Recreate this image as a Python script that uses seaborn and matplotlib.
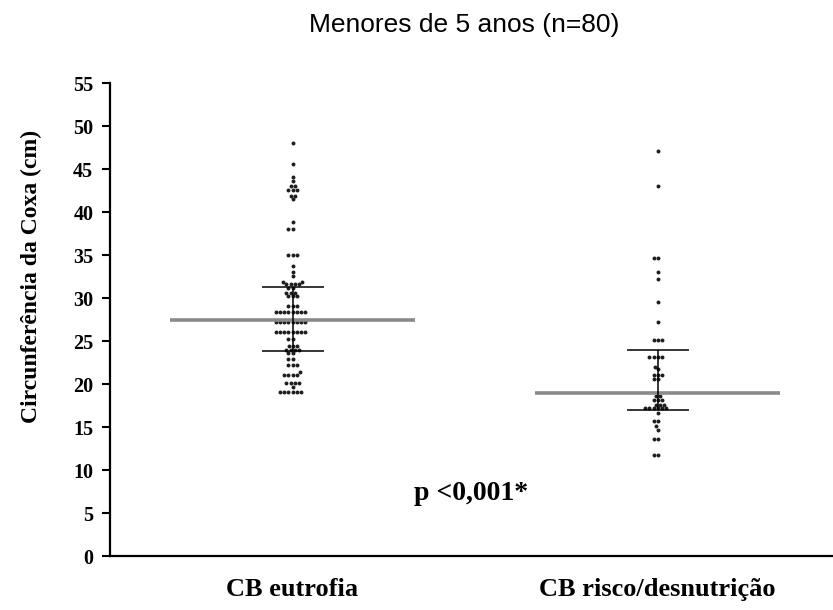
import matplotlib
matplotlib.use('Agg')
import matplotlib.pyplot as plt
import seaborn as sns
import pandas as pd

# values
categories = ['CB eutrofia', 'CB risco/desnutrição']

eutrofia = ([48.1, 45.6, 44.1, 43.6] + [43.0] * 2 + [42.6] * 3 + [41.9] * 2 + [41.5, 38.9]
            + [38.1] * 2 + [35.0] * 3 + [33.7, 33.1, 32.6] + [31.9] * 2 + [31.6] * 4
            + [31.2] * 2 + [30.6] * 3 + [30.2] * 3 + [29.1] * 3 + [28.4] * 8 + [27.2] * 8
            + [26.1] * 8 + [25.2] * 2 + [24.4] * 3 + [24.0] * 4 + [23.6] * 2 + [22.9] * 2
            + [22.2] * 3 + [21.4] + [21.1] * 4 + [20.1] * 4 + [19.7] + [19.1] * 6)

risco = ([47.1, 43.0] + [34.7] * 2 + [33.1, 32.2, 29.5, 27.2] + [25.1] * 3 + [23.1] * 4
         + [22.0, 21.7] + [21.1] * 3 + [20.6] * 2 + [18.6] * 2 + [18.2] * 3 + [17.6] * 3
         + [17.2] * 6 + [16.6] + [15.7] * 2 + [15.1, 14.7] + [13.6] * 2 + [11.7] * 2)

medians = [27.5, 19.0]
q1 = [23.8, 17.0]
q3 = [31.3, 24.0]

df = pd.DataFrame({
    'grupo': [categories[0]] * len(eutrofia) + [categories[1]] * len(risco),
    'valor': eutrofia + risco,
})

sns.set_style('white')
plt.rcParams['text.color'] = 'black'
plt.rcParams['axes.labelcolor'] = 'black'
plt.rcParams['xtick.color'] = 'black'
plt.rcParams['ytick.color'] = 'black'
serif = 'Liberation Serif'

fig = plt.figure(figsize=(8.33, 6.1), dpi=100)
ax = fig.add_axes([0.132, 0.0885, 0.868, 0.775])

sns.swarmplot(data=df, x='grupo', y='valor', order=categories, color='#1e1e1e',
              size=5.0, linewidth=0, ax=ax)
# shrink the dots after the swarm layout so they sit with small gaps
for coll in ax.collections:
    coll.set_sizes([8])

for i in range(len(categories)):
    ax.hlines(medians[i], i - 0.335, i + 0.335, color='#8a8a8a', lw=2.6, zorder=3)
    ax.hlines([q1[i], q3[i]], i - 0.085, i + 0.085, color='black', lw=1.1, zorder=4)
    ax.vlines(i, q1[i], q3[i], color='black', lw=1.1, zorder=4)

ax.set_xlim(-0.5, 1.48)
ax.set_ylim(0, 55)
ax.set_yticks(range(0, 56, 5))
ax.set_xlabel('')
ax.set_ylabel('Circunferência da Coxa (cm)', fontfamily=serif, fontweight='bold', fontsize=17)
ax.yaxis.set_label_coords(-0.109, 0.592)
ax.yaxis.label.set_va('center')

for lab in ax.get_yticklabels():
    lab.set_fontfamily(serif)
    lab.set_fontweight('bold')
    lab.set_fontsize(14.5)
ax.set_xticks(range(len(categories)))
ax.set_xticklabels(categories, fontfamily=serif, fontweight='bold', fontsize=19)

ax.tick_params(axis='y', direction='out', length=6, width=1.5, left=True, pad=6)
ax.tick_params(axis='x', length=0, pad=16)

sns.despine(ax=ax, top=True, right=True)
ax.spines['left'].set_linewidth(1.6)
ax.spines['bottom'].set_linewidth(1.6)
ax.spines['left'].set_color('black')
ax.spines['bottom'].set_color('black')

ax.text(0.488, 7.3, 'p <0,001*', ha='center', va='center', fontfamily=serif,
        fontweight='bold', fontsize=20)

fig.text(0.557, 0.959, 'Menores de 5 anos (n=80)', ha='center', va='center',
         fontfamily='Liberation Sans', fontsize=19)

fig.savefig('out.png', dpi=100, facecolor='white')
